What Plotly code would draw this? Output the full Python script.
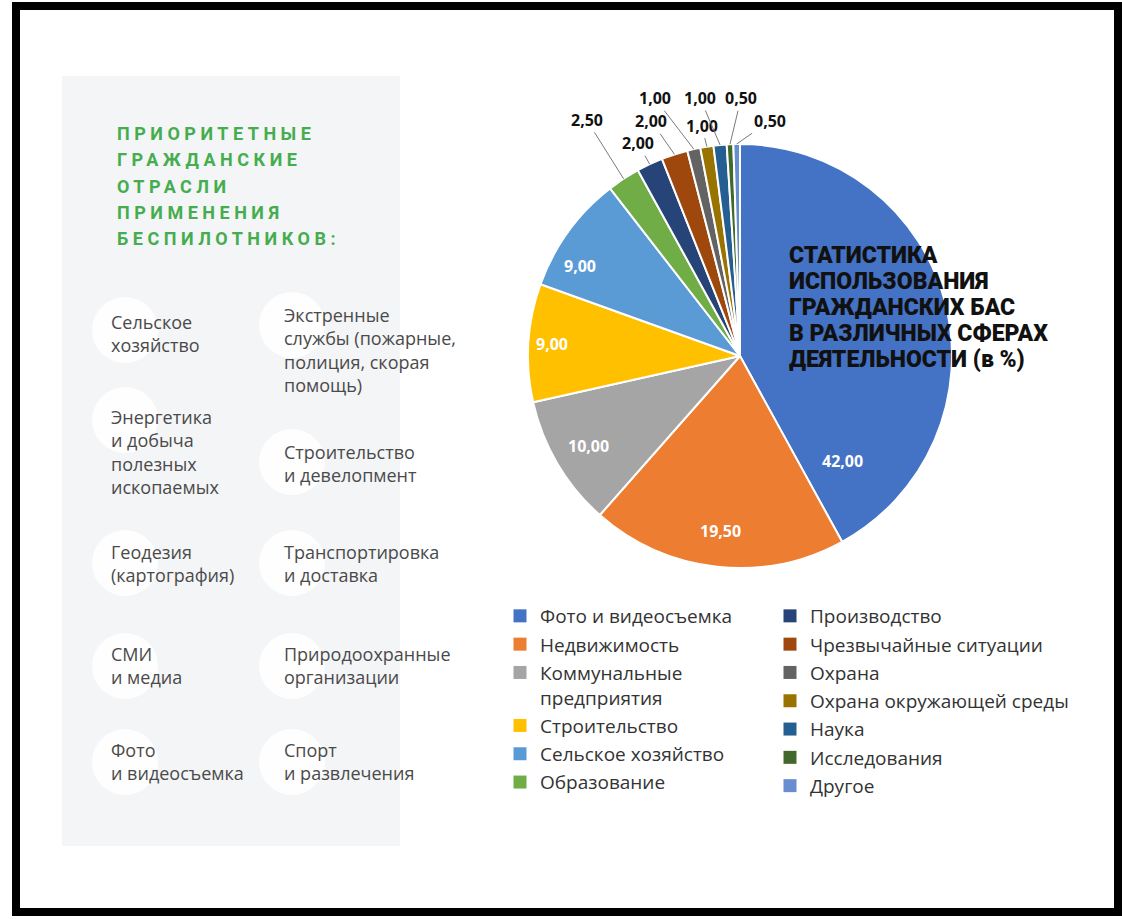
import math
import plotly.graph_objects as go

W, H = 1122, 919

# ---------------- data ----------------
categories = [
    "Фото и видеосъемка", "Недвижимость", "Коммунальные<br>предприятия",
    "Строительство", "Сельское хозяйство", "Образование", "Производство",
    "Чрезвычайные ситуации", "Охрана", "Охрана окружающей среды", "Наука",
    "Исследования", "Другое",
]
values = [42.0, 19.5, 10.0, 9.0, 9.0, 2.5, 2.0, 2.0, 1.0, 1.0, 1.0, 0.5, 0.5]
colors = ["#4472C4", "#ED7D31", "#A5A5A5", "#FFC000", "#5B9BD5", "#70AD47",
          "#264478", "#9E480E", "#636363", "#997300", "#255E91", "#43682B",
          "#698ED0"]
inside_label = [True, True, True, True, True, False, False, False, False,
                False, False, False, False]
# label placement (style only): position inside slice span, radius fraction
inside_pos = [(0.86, 0.77), (0.5, 0.83), (0.5, 0.83), (0.5, 0.89),
              (0.4, 0.90)]
# pixel offsets of the outside labels (style only)
label_offsets = [None, None, None, None, None, (-37, -59), (-12, -21),
                 (-23, -33), (-39, -51), (-5, -21), (-20, -47), (11, -46),
                 (33, -23)]

panel_title = ["ПРИОРИТЕТНЫЕ", "ГРАЖДАНСКИЕ", "ОТРАСЛИ", "ПРИМЕНЕНИЯ",
               "БЕСПИЛОТНИКОВ:"]
panel_col1 = ["Сельское<br>хозяйство",
              "Энергетика<br>и добыча<br>полезных<br>ископаемых",
              "Геодезия<br>(картография)", "СМИ<br>и медиа",
              "Фото<br>и видеосъемка"]
panel_col2 = ["Экстренные<br>службы (пожарные,<br>полиция, скорая<br>помощь)",
              "Строительство<br>и девелопмент",
              "Транспортировка<br>и доставка",
              "Природоохранные<br>организации", "Спорт<br>и развлечения"]
chart_title = ["СТАТИСТИКА", "ИСПОЛЬЗОВАНИЯ", "ГРАЖДАНСКИХ БАС",
               "В РАЗЛИЧНЫХ СФЕРАХ", "ДЕЯТЕЛЬНОСТИ (в %)"]

# ---------------- layout constants ----------------
FONT = "Open Sans, Noto Sans, DejaVu Sans, sans-serif"
pie_x = [528 / W, 952 / W]
pie_y = [1 - 568 / H, 1 - 144 / H]
cx = (pie_x[0] + pie_x[1]) / 2 * W
cy = (1 - (pie_y[0] + pie_y[1]) / 2) * H
R = min((pie_x[1] - pie_x[0]) * W, (pie_y[1] - pie_y[0]) * H) / 2

fig = go.Figure()

fig.add_trace(go.Pie(
    labels=categories, values=values, sort=False, direction="clockwise",
    rotation=0, domain=dict(x=pie_x, y=pie_y),
    marker=dict(colors=colors, line=dict(color="white", width=2)),
    textinfo="none", showlegend=False, hoverinfo="label+value",
))

# legend entries (two columns)
for i, (name, col) in enumerate(zip(categories, colors)):
    fig.add_trace(go.Scatter(
        x=[None], y=[None], mode="markers", name=name,
        marker=dict(symbol="square", size=13, color=col),
        legend="legend" if i < 6 else "legend2", legendgroup=f"g{i}",
    ))


def fmt(v):
    return f"{v:.2f}".replace(".", ",")


annotations = []
total = sum(values)
cum = 0.0
for i, v in enumerate(values):
    start = cum / total * 2 * math.pi
    span = v / total * 2 * math.pi
    cum += v
    if inside_label[i]:
        fr, rr = inside_pos[i]
        ang = start + fr * span
        px = cx + rr * R * math.sin(ang)
        py = cy - rr * R * math.cos(ang)
        annotations.append(dict(
            x=px / W, y=1 - py / H, xref="paper", yref="paper",
            showarrow=False, text=f"<b>{fmt(v)}</b>",
            font=dict(family=FONT, size=16, color="white"),
        ))
    else:
        off = label_offsets[i]
        ang = start + span / 2
        px = cx + R * math.sin(ang)
        py = cy - R * math.cos(ang)
        annotations.append(dict(
            x=px / W, y=1 - py / H, xref="paper", yref="paper",
            text=f"<b>{fmt(v)}</b>", showarrow=True,
            arrowhead=0, arrowwidth=1, arrowcolor="#7a7a7a",
            ax=off[0], ay=off[1],
            font=dict(family=FONT, size=16, color="#111111"),
        ))

for k, line in enumerate(chart_title):
    annotations.append(dict(
        x=787 / W, y=1 - (255 + 26 * k) / H, xref="paper", yref="paper",
        xanchor="left", yanchor="middle", align="left", showarrow=False,
        text=line,
        font=dict(family="Roboto, sans-serif", size=23, color="#111111",
                  weight=900),
    ))

# panel heading
for k, line in enumerate(panel_title):
    annotations.append(dict(
        x=115 / W, y=1 - (134 + 26 * k) / H, xref="paper", yref="paper",
        xanchor="left", yanchor="middle", align="left", showarrow=False,
        text=f'<span style="letter-spacing:4.5px">{line}</span>',
        font=dict(family="Roboto, sans-serif", size=18, color="#45AD4E",
                  weight="bold"),
    ))

shapes = [
    dict(type="rect", xref="paper", yref="paper", x0=62 / W, x1=400 / W,
         y0=1 - 846 / H, y1=1 - 76 / H, fillcolor="#F3F5F7",
         line=dict(width=0), layer="below"),
]

circle_y1 = [330, 420, 563, 666, 762]
circle_y2 = [325, 462, 563, 666, 762]
for ccx, ys in [(125, circle_y1), (292, circle_y2)]:
    for yy in ys:
        shapes.append(dict(
            type="circle", xref="paper", yref="paper",
            x0=(ccx - 33) / W, x1=(ccx + 33) / W,
            y0=1 - (yy + 33) / H, y1=1 - (yy - 33) / H,
            fillcolor="rgba(255,255,255,0.85)", line=dict(width=0),
            layer="below",
        ))

col1_y = [333, 452, 563, 665, 761]
col2_y = [350, 463, 563, 665, 761]
for texts, ys, tx in [(panel_col1, col1_y, 109), (panel_col2, col2_y, 282)]:
    for t, yy in zip(texts, ys):
        annotations.append(dict(
            x=tx / W, y=1 - yy / H, xref="paper", yref="paper",
            xanchor="left", yanchor="middle", align="left", showarrow=False,
            text=t, font=dict(family=FONT, size=18, color="#4a4a4a"),
        ))

# outer frame
shapes.append(dict(type="rect", xref="paper", yref="paper",
                   x0=16 / W, x1=1118 / W, y0=1 - 912 / H, y1=1 - 6 / H,
                   line=dict(color="black", width=8), fillcolor="rgba(0,0,0,0)"))

legend_style = dict(
    font=dict(family=FONT, size=19, color="#333333"), valign="top",
    bgcolor="rgba(0,0,0,0)", tracegroupgap=0.6, itemclick=False,
    xanchor="left", yanchor="top", orientation="v",
)

fig.update_layout(
    width=W, height=H, margin=dict(l=0, r=0, t=0, b=0),
    paper_bgcolor="white", plot_bgcolor="white",
    xaxis=dict(visible=False), yaxis=dict(visible=False),
    legend=dict(x=500 / W, y=1 - 597 / H, **legend_style),
    legend2=dict(x=770 / W, y=1 - 597 / H, **legend_style),
    annotations=annotations, shapes=shapes,
)

fig.write_html("out.html")
